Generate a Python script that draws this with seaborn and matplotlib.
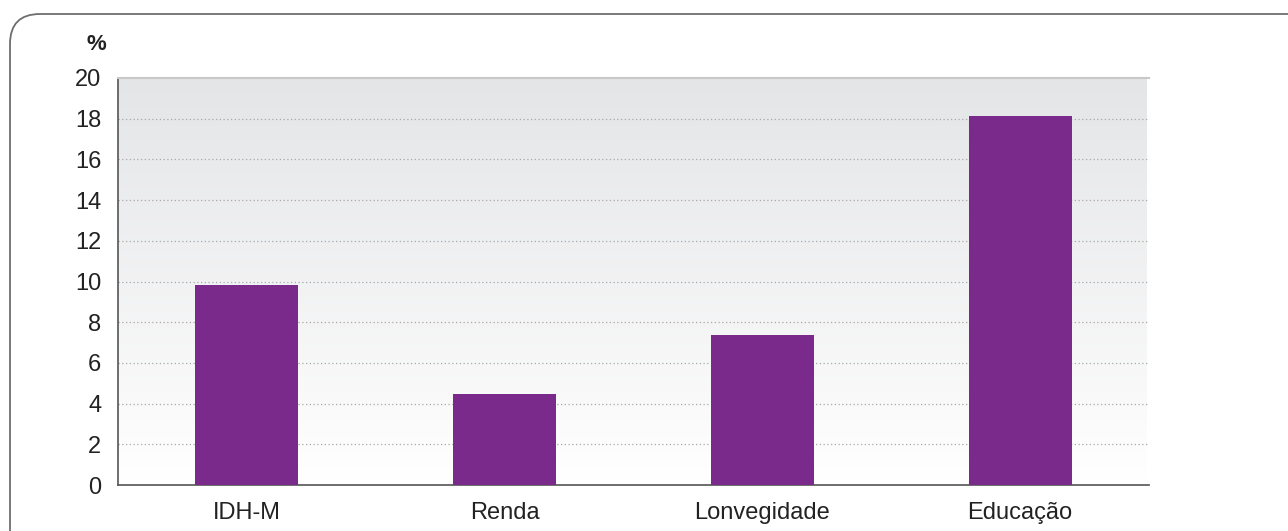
import numpy as np
import pandas as pd
import seaborn as sns
import matplotlib.pyplot as plt
from matplotlib.patches import FancyBboxPatch
from matplotlib.colors import LinearSegmentedColormap

# Chart values
categories = ["IDH-M", "Renda", "Lonvegidade", "Educação"]
values = [9.85, 4.47, 7.37, 18.12]
y_ticks = [0, 2, 4, 6, 8, 10, 12, 14, 16, 18, 20]

df = pd.DataFrame({"categoria": categories, "valor": values})

sns.set_style("white")
plt.rcParams["font.family"] = ["Liberation Sans", "DejaVu Sans"]

W, H = 1288, 531
fig = plt.figure(figsize=(W / 100, H / 100), dpi=100)

# rounded frame around the chart (partly cut off at the right and bottom)
bg = fig.add_axes([0, 0, 1, 1])
bg.set_xlim(0, W)
bg.set_ylim(H, 0)
bg.axis("off")
frame = FancyBboxPatch((10, 14), 1320, 560, boxstyle="round,pad=0,rounding_size=30",
                       facecolor="white", edgecolor="#6e6e6e", linewidth=1.3)
bg.add_patch(frame)

left, right, top, bottom = 118, 1149, 78, 485
ax = fig.add_axes([left / W, 1 - bottom / H, (right - left) / W, (bottom - top) / H])

# gradient background inside the plot area: grey at top, white at bottom
grad = LinearSegmentedColormap.from_list("bg", ["#e4e5e7", "#ffffff"])
ax.imshow(np.linspace(0, 1, 256).reshape(-1, 1), cmap=grad, aspect="auto",
          extent=(-0.5, 3.49, 0, 20), zorder=0)

sns.barplot(data=df, x="categoria", y="valor", color="#7a2a8a", width=0.4,
            saturation=1, linewidth=0, ax=ax, zorder=3)

ax.set_xlim(-0.5, 3.5)
ax.set_ylim(0, 20)
ax.set_yticks(y_ticks)
ax.set_yticklabels([str(t) for t in y_ticks], fontsize=17, color="#222222")

# dotted grid lines, none at the top
for t in y_ticks[1:-1]:
    ax.axhline(t, color="#a8a8a8", linestyle=(0, (1, 2)), linewidth=0.9, zorder=1)

# category labels centred, ticks on the boundaries
ax.set_xticks(range(len(categories)))
ax.set_xticklabels(categories, fontsize=17, color="#222222")
ax.tick_params(axis="x", which="major", length=0, pad=12)
ax.set_xticks(np.arange(-0.5, len(categories)), minor=True)
ax.tick_params(axis="x", which="minor", length=7, width=1, color="#555555", direction="out")
ax.tick_params(axis="y", length=7, width=1, color="#555555", direction="out", pad=5)

ax.set_xlabel("")
ax.set_ylabel("")
for s in ["left", "bottom"]:
    ax.spines[s].set_color("#555555")
    ax.spines[s].set_linewidth(1.2)
ax.spines["top"].set_color("#c8c8c8")
ax.spines["top"].set_linewidth(1.5)
ax.spines["right"].set_visible(False)

fig.text(96 / W, 1 - 45 / H, "%", fontsize=16, fontweight="bold", color="#222222",
         ha="center", va="center")

fig.savefig("out.png", dpi=100)
